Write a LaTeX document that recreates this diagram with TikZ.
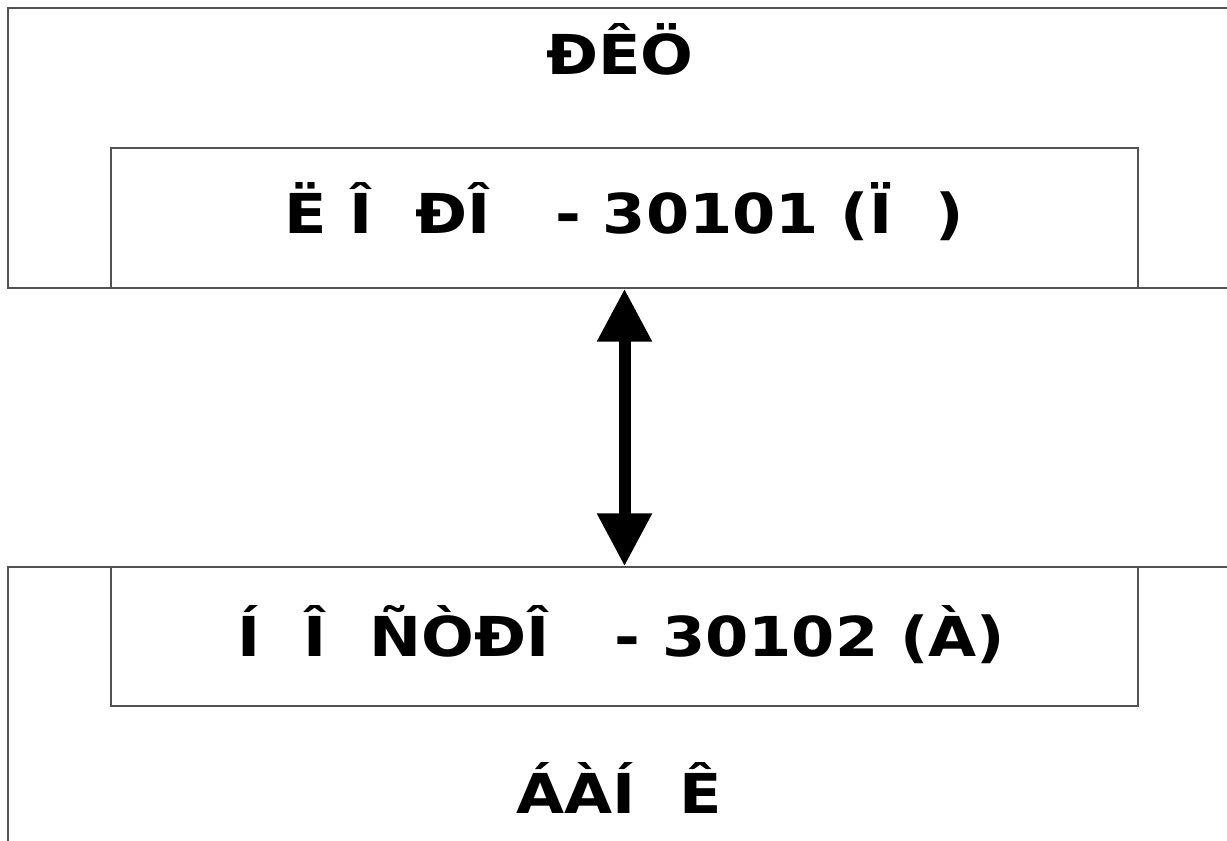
\documentclass[tikz,border=0pt]{standalone}
\usepackage{fontspec}
\setmainfont[FakeStretch=1.13]{DejaVu Sans}
\usetikzlibrary{arrows.meta}
\begin{document}
\begin{tikzpicture}[x=1pt,y=-1pt,
  boxline/.style={draw=black!68,line width=1.4pt},
  lbl/.style={font=\fontsize{55}{60}\selectfont\bfseries,anchor=base,inner sep=0pt},
  bigarrow/.style={{Triangle[length=53pt,width=52pt]}-{Triangle[length=53pt,width=52pt]},line width=12pt,black}]
\useasboundingbox (0,0) rectangle (1227,841);
\clip (0,0) rectangle (1227,841);
\fill[white] (0,0) rectangle (1227,841);
% outer boxes (extend past the right and bottom edges)
\draw[boxline] (8,8) rectangle (1260,288);
\draw[boxline] (8,567) rectangle (1260,880);
% inner boxes
\node[boxline,minimum width=1027pt,minimum height=140pt,inner sep=0pt] (top) at (624.5,218) {};
\node[boxline,minimum width=1027pt,minimum height=139pt,inner sep=0pt] (bot) at (624.5,636.5) {};
% labels
\node[lbl] (rkc) at (620,74) {ÐÊÖ};
\node[lbl] (t1) at (624.5,233) {Ë Î~~ÐÎ~~~- 30101 (Ï~~)};
\node[lbl] (t2) at (621,656) {Í~~Î~~ÑÒÐÎ~~~- 30102 (À)};
\node[lbl] (bank) at (619,813) {ÁÀÍ~~Ê};
% connector
\draw[bigarrow] (top.south) -- (bot.north);
\end{tikzpicture}
\end{document}
